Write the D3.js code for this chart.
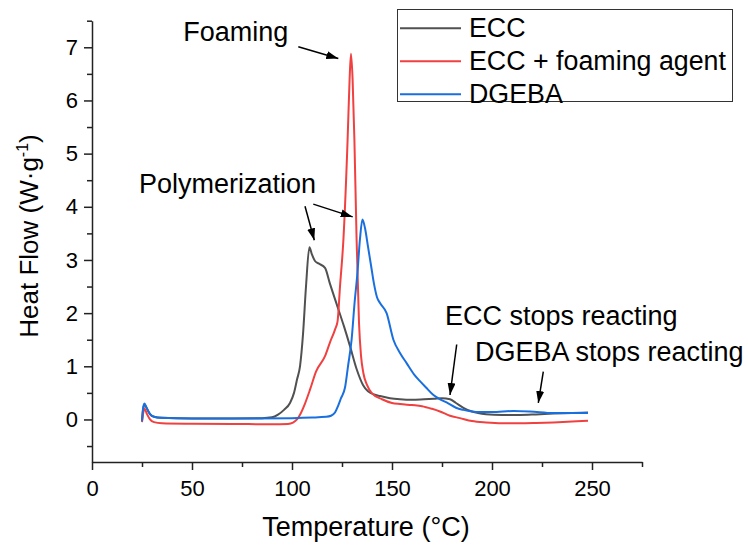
<!DOCTYPE html>
<html>
<head>
<meta charset="utf-8">
<script src="https://cdn.jsdelivr.net/npm/d3@7"></script>
<style>
  body { margin: 0; background: #fff; }
  text { font-family: "Liberation Sans", Arial, sans-serif; fill: #000; }
</style>
</head>
<body>
<div id="chart"></div>
<script>
// Size of the picture
let width = 748;
let height = 546;

// DSC curves, [temperature (°C), heat flow (W/g)]
let eccData = [
  [25, -0.02], [25.6, 0.2], [26.3, 0.28], [27.5, 0.2], [29, 0.1], [31, 0.05], [35, 0.03],
  [50, 0.02], [70, 0.02], [85, 0.025], [90, 0.04], [93, 0.09], [96, 0.18], [99, 0.31],
  [101, 0.5], [102.5, 0.75], [104, 1.0], [105.5, 1.6], [107, 2.5], [108.7, 3.24], [110, 3.1],
  [111.5, 2.98], [113.5, 2.93], [116.5, 2.85], [119, 2.55], [122.5, 2.15], [126, 1.75],
  [129, 1.38], [132.3, 0.95], [135.5, 0.65], [138, 0.53], [141, 0.47], [144, 0.44],
  [149, 0.4], [154, 0.38], [160, 0.37], [166, 0.38], [171, 0.39], [175, 0.4], [179, 0.38],
  [182, 0.31], [185.7, 0.22], [190, 0.15], [197, 0.1], [205, 0.085], [214, 0.085],
  [222, 0.095], [230.7, 0.11], [240, 0.12], [248, 0.13]
];

let foamData = [
  [25, -0.05], [25.6, 0.12], [26.3, 0.2], [27.5, 0.1], [29, 0.0], [31, -0.05], [35, -0.07],
  [50, -0.08], [70, -0.085], [90, -0.09], [98, -0.085], [100.5, -0.06], [102.5, 0.0],
  [104, 0.09], [106.5, 0.3], [109, 0.56], [112, 0.9], [116.5, 1.19], [119, 1.45],
  [121.5, 1.69], [122.8, 1.85], [124, 2.5], [125.7, 3.38], [127.8, 5.26], [128.8, 6.4],
  [129.5, 6.88], [130.3, 6.4], [131.2, 5.26], [132.3, 3.38], [133.5, 1.82], [134.5, 1.2],
  [135.7, 0.87], [137.5, 0.65], [139.8, 0.5], [145, 0.38], [150, 0.31], [154, 0.29],
  [160, 0.27], [165, 0.25], [170, 0.2], [174, 0.15], [179, 0.07], [184, 0.025],
  [190, -0.03], [197, -0.056], [205, -0.07], [214, -0.07], [222, -0.065], [230.7, -0.056],
  [240, -0.04], [248, -0.025]
];

let dgebaData = [
  [25, -0.03], [25.5, 0.2], [26.2, 0.3], [27.3, 0.22], [29, 0.1], [31, 0.05], [34, 0.03],
  [50, 0.02], [80, 0.02], [100, 0.025], [110, 0.035], [117, 0.05], [119.5, 0.07],
  [121.5, 0.13], [123, 0.25], [124.5, 0.4], [126.5, 0.6], [128, 1.0], [129.8, 1.5],
  [131.3, 2.2], [132.7, 2.75], [134, 3.4], [135.2, 3.76], [136.5, 3.6], [138, 3.25],
  [139.5, 2.9], [141, 2.55], [142.5, 2.3], [144, 2.19], [147.3, 2.0], [150.7, 1.5],
  [154, 1.25], [157.3, 1.06], [161, 0.85], [164, 0.72], [167, 0.6], [170.7, 0.46],
  [174, 0.38], [177.3, 0.32], [182, 0.22], [185.7, 0.18], [190, 0.15], [194, 0.14],
  [200, 0.14], [210.7, 0.16], [219, 0.15], [230.7, 0.12], [248, 0.12]
];

let seriesNames = ["ECC", "ECC + foaming agent", "DGEBA"];
let seriesColors = ["#515151", "#F14040", "#1A6FDF"];

let xTicks = [0, 50, 100, 150, 200, 250];
let yTicks = [0, 1, 2, 3, 4, 5, 6, 7];

// Annotations in data units: text position, arrows [from, to]
let notes = [
  {text: "Foaming", at: [45.65, 7.11], arrows: [[[103.15, 7.01], [123.15, 6.79]]]},
  {text: "Polymerization", at: [23.5, 4.25], arrows: [[[106.5, 4.01], [111.15, 3.37]], [[110.65, 4.05], [130.35, 3.81]]]},
  {text: "ECC stops reacting", at: [176.5, 1.78], arrows: [[[182.35, 1.41], [179, 0.46]]]},
  {text: "DGEBA stops reacting", at: [191.5, 1.1], arrows: [[[225.65, 0.9], [223.15, 0.31]]]}
];

// Scales
let x = d3.scaleLinear().domain([0, 275]).range([92, 642]);
let y = d3.scaleLinear().domain([-0.8, 7.5]).range([462, 20.7]);

let svg = d3.select('#chart')
.append('svg')
.attr('width', width)
.attr('height', height);

// arrow head
svg.append('defs').append('marker')
.attr('id', 'head')
.attr('viewBox', '0 0 12 8')
.attr('refX', 12)
.attr('refY', 4)
.attr('markerWidth', 12)
.attr('markerHeight', 8)
.attr('markerUnits', 'userSpaceOnUse')
.attr('orient', 'auto')
.append('path')
.attr('d', 'M0,0 L12,4 L0,8 Z')
.attr('fill', '#000');

// Minor ticks first, then major ticks with labels
let xMinor = svg.append('g')
.attr('transform', 'translate(0,462)')
.call(d3.axisBottom(x).tickValues(d3.range(25, 276, 50)).tickSize(5).tickFormat(''));

let xAxis = svg.append('g')
.attr('transform', 'translate(0,462)')
.call(d3.axisBottom(x).tickValues(xTicks).tickSize(8).tickSizeOuter(0).tickPadding(10));

let yMinor = svg.append('g')
.attr('transform', 'translate(92,0)')
.call(d3.axisLeft(y).tickValues(d3.range(-0.5, 7.6, 1)).tickSize(5).tickFormat(''));

let yAxis = svg.append('g')
.attr('transform', 'translate(92,0)')
.call(d3.axisLeft(y).tickValues(yTicks).tickSize(8).tickSizeOuter(0).tickPadding(6));

svg.selectAll('.tick line').attr('stroke', '#222').attr('stroke-width', 1.5);
svg.selectAll('.domain').attr('stroke', '#222').attr('stroke-width', 1.5);
xMinor.select('.domain').remove();
yMinor.select('.domain').remove();
svg.selectAll('.tick text')
.style('font-family', '"Liberation Sans", Arial, sans-serif')
.style('font-size', '22px')
.attr('fill', '#000');

// Axis titles
svg.append('text')
.attr('x', 366)
.attr('y', 536)
.attr('text-anchor', 'middle')
.style('font-size', '27px')
.text('Temperature (°C)');

let yTitle = svg.append('text')
.attr('transform', 'translate(38,236) rotate(-90)')
.attr('text-anchor', 'middle')
.style('font-size', '26px');
yTitle.append('tspan').text('Heat Flow (W·g');
yTitle.append('tspan').attr('dy', -10).style('font-size', '16px').text('-1');
yTitle.append('tspan').attr('dy', 10).text(')');

// Curves
let line = d3.line()
.x(function(d){ return x(d[0]); })
.y(function(d){ return y(d[1]); })
.curve(d3.curveMonotoneX);

let allSeries = [eccData, foamData, dgebaData];

svg.append('g').selectAll('path')
.data(allSeries)
.enter()
.append('path')
.attr('d', line)
.attr('fill', 'none')
.attr('stroke', function(d, i){ return seriesColors[i]; })
.attr('stroke-width', 2)
.attr('stroke-linejoin', 'round');

// Annotations
let ann = svg.append('g');
notes.forEach(function(n){
  ann.append('text')
  .attr('x', x(n.at[0]))
  .attr('y', y(n.at[1]))
  .style('font-size', '27px')
  .text(n.text);
  n.arrows.forEach(function(a){
    ann.append('line')
    .attr('x1', x(a[0][0])).attr('y1', y(a[0][1]))
    .attr('x2', x(a[1][0])).attr('y2', y(a[1][1]))
    .attr('stroke', '#000')
    .attr('stroke-width', 1.5)
    .attr('marker-end', 'url(#head)');
  });
});

// Legend
let legend = svg.append('g');
legend.append('rect')
.attr('x', 397.5).attr('y', 9.5)
.attr('width', 335).attr('height', 92)
.attr('fill', '#fff')
.attr('stroke', '#333')
.attr('stroke-width', 1);

seriesNames.forEach(function(name, i){
  let ry = 28.3 + i * 33;
  legend.append('line')
  .attr('x1', 400).attr('x2', 461)
  .attr('y1', ry).attr('y2', ry)
  .attr('stroke', seriesColors[i])
  .attr('stroke-width', 2);
  legend.append('text')
  .attr('x', 469)
  .attr('y', ry + 9)
  .style('font-size', '26.8px')
  .text(name);
});
</script>
</body>
</html>
